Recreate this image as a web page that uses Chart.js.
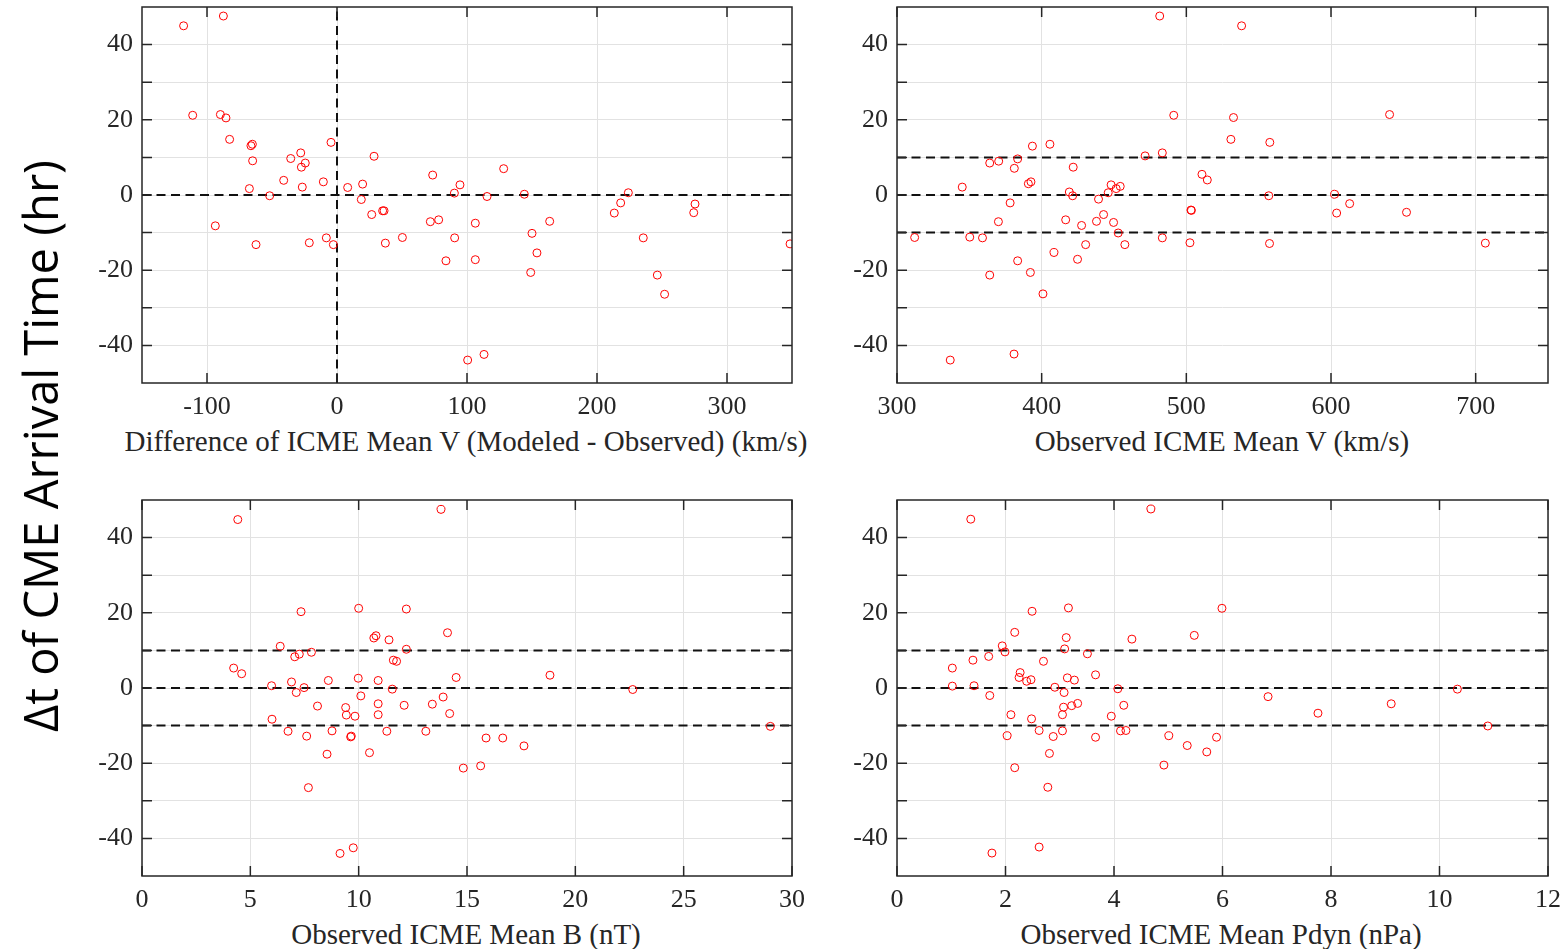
<!DOCTYPE html>
<html>
<head>
<meta charset="utf-8">
<title>CME arrival time error vs ICME parameters</title>
<script src="https://cdn.jsdelivr.net/npm/chart.js@4.4.1/dist/chart.umd.min.js"></script>
<style>
    html, body {
        margin: 0;
        padding: 0;
        background: #ffffff;
    }
    #page {
        position: relative;
        width: 1568px;
        height: 949px;
        overflow: hidden;
        background: #ffffff;
    }
    .panel {
        position: absolute;
    }
    .x-title {
        position: absolute;
        transform: translate(-50%, -50%);
        white-space: nowrap;
        font-family: 'Liberation Serif', 'Times New Roman', serif;
        font-size: 29px;
        color: #262626;
    }
    #y-title {
        position: absolute;
        left: 40px;
        top: 446px;
        transform: translate(-50%, -50%) rotate(-90deg);
        white-space: nowrap;
        font-family: 'Open Sans', 'Noto Sans', sans-serif;
        font-size: 47px;
        color: #000000;
    }
</style>
</head>
<body>
<div id="page">
    <canvas id="chartDiffV" class="panel" width="770" height="420" style="left:70px; top:0px;"></canvas>
    <canvas id="chartObsV" class="panel" width="743" height="420" style="left:825px; top:0px;"></canvas>
    <canvas id="chartObsB" class="panel" width="770" height="433" style="left:70px; top:480px;"></canvas>
    <canvas id="chartObsPdyn" class="panel" width="743" height="433" style="left:825px; top:480px;"></canvas>

    <div class="x-title" style="left:466px; top:441px;">Difference of ICME Mean V (Modeled - Observed) (km/s)</div>
    <div class="x-title" style="left:1222px; top:441px;">Observed ICME Mean V (km/s)</div>
    <div class="x-title" style="left:466px; top:934px;">Observed ICME Mean B (nT)</div>
    <div class="x-title" style="left:1221px; top:934px;">Observed ICME Mean Pdyn (nPa)</div>
    <div id="y-title">Δt of CME Arrival Time (hr)</div>
</div>

<script>
// Arrival time error (hr) against modeled - observed mean speed (km/s)
const diffV = [
    -118, -87.4, -111, -89.7, -85.4, -82.6, -66.2, -65.1, -64.9, -67.4,
    -51.8, -93.6, -62.3, -35.6, -27.9, -24.4, -27.4, -41, -26.7, -21.3,
    -10.5, -4.6, -8.2, -2.8, 8.2, 19.7, 18.7, 28.5, 26.7, 35.1,
    36.2, 37.2, 50.3, 73.6, 71.8, 78.2, 90.3, 94.6, 90.5, 83.8,
    100.5, 128.2, 115.4, 144.1, 106.4, 163.6, 150, 153.8, 106.4, 149,
    113.1, 224.1, 218.2, 213.3, 235.6, 246.4, 252, 275.4, 274.4, 348.5
];
const dtDiffV = [
    45.0, 47.6, 21.2, 21.4, 20.5, 14.8, 13.1, 13.5, 9.1, 1.7,
    -0.2, -8.2, -13.2, 9.7, 11.2, 8.5, 7.4, 3.9, 2.1, -12.7,
    3.5, 14.0, -11.4, -13.2, 2.0, 2.9, -1.2, 10.3, -5.2, -4.2,
    -4.2, -12.8, -11.3, 5.3, -7.1, -6.6, 0.5, 2.7, -11.4, -17.5,
    -43.9, 7.0, -0.4, 0.2, -7.5, -7.0, -10.2, -15.4, -17.2, -20.6,
    -42.4, 0.6, -2.1, -4.8, -11.4, -21.3, -26.4, -2.4, -4.7, -13.0
];

// Against observed ICME mean speed (km/s)
const obsV = [
    481.6, 491.3, 483.4, 471.5, 405.7, 393.6, 383.4, 370.3, 364.1, 381.1,
    421.8, 345.1, 390.8, 392.6, 419.1, 421.4, 378.2, 439.3, 446, 448,
    451.5, 454.3, 370.1, 416.6, 427.6, 437.9, 442.8, 449.7, 452.9, 312.2,
    350.3, 359.1, 430.4, 457.5, 408.5, 383.4, 424.8, 364.1, 392.2, 400.9,
    336.8, 380.9, 483.4, 510.8, 514.5, 503.2, 503.5, 502.5, 538.2, 532.6,
    530.8, 557.7, 557, 557.5, 602.5, 612.9, 603.9, 652.2, 640.5, 706.7
];
const dtObsV = [
    47.6, 21.2, 11.2, 10.4, 13.5, 13.0, 9.6, 9.0, 8.5, 7.1,
    7.4, 2.1, 3.0, 3.5, 0.8, -0.2, -2.1, -1.1, 0.6, 2.7,
    1.7, 2.3, -7.1, -6.6, -8.1, -7.0, -5.2, -7.3, -10.1, -11.3,
    -11.2, -11.4, -13.2, -13.2, -15.3, -17.5, -17.1, -21.3, -20.6, -26.3,
    -43.9, -42.3, -11.4, 5.5, 4.0, -4.0, -4.1, -12.7, 45.0, 20.6,
    14.8, 14.0, -0.2, -12.9, 0.2, -2.3, -4.8, -4.6, 21.4, -12.8
];

// Against observed ICME mean magnetic field (nT)
const obsB = [
    4.42, 13.8, 7.34, 10.0, 12.2, 14.1, 6.38, 10.7, 10.8, 11.4,
    12.2, 7.05, 7.26, 7.82, 11.6, 11.75, 4.23, 4.6, 5.98, 6.9,
    7.48, 7.12, 8.6, 9.98, 10.9, 11.55, 14.5, 10.1, 8.1, 9.4,
    9.43, 9.83, 10.9, 10.9, 12.1, 13.4, 13.9, 14.2, 6.0, 6.74,
    7.6, 8.77, 9.63, 9.66, 11.3, 13.1, 8.54, 10.5, 14.83, 7.68,
    9.14, 9.75, 18.83, 22.65, 29.0, 15.88, 16.65, 17.63, 15.63
];
const dtObsB = [
    44.8, 47.5, 20.3, 21.2, 21.0, 14.7, 11.1, 13.3, 13.9, 12.8,
    10.3, 8.3, 9.0, 9.5, 7.4, 7.1, 5.3, 3.8, 0.6, 1.6,
    0.1, -1.2, 2.0, 2.6, 2.0, -0.3, 2.8, -2.1, -4.8, -5.2,
    -7.2, -7.5, -4.2, -7.1, -4.6, -4.3, -2.4, -6.8, -8.3, -11.5,
    -12.8, -11.4, -13.0, -12.8, -11.5, -11.5, -17.6, -17.2, -21.3, -26.5,
    -44.0, -42.5, 3.4, -0.4, -10.2, -13.3, -13.3, -15.4, -20.7
];

// Against observed ICME mean dynamic pressure (nPa)
const obsPdyn = [
    1.36, 4.68, 2.49, 3.16, 5.99, 2.17, 3.12, 4.33, 5.48, 1.94,
    1.99, 3.09, 3.51, 1.69, 1.40, 2.70, 1.02, 2.27, 2.25, 2.39,
    2.47, 3.14, 3.27, 3.66, 1.02, 1.42, 1.71, 2.91, 3.08, 4.07,
    3.07, 3.22, 3.33, 3.05, 4.18, 3.95, 2.10, 2.48, 2.03, 2.62,
    2.88, 3.05, 3.66, 4.12, 4.22, 5.01, 5.35, 5.71, 5.89, 2.81,
    2.17, 4.92, 2.78, 1.75, 2.62, 6.84, 7.76, 9.11, 10.33, 10.89
];
const dtObsPdyn = [
    44.9, 47.6, 20.4, 21.3, 21.2, 14.8, 13.4, 13.0, 14.0, 11.2,
    9.6, 10.4, 9.1, 8.4, 7.4, 7.1, 5.3, 4.1, 2.8, 1.8,
    2.2, 2.7, 2.1, 3.5, 0.5, 0.6, -2.0, 0.2, -1.2, -0.2,
    -5.1, -4.7, -4.1, -7.1, -4.6, -7.5, -7.1, -8.2, -12.7, -11.3,
    -12.9, -11.4, -13.1, -11.4, -11.3, -12.7, -15.3, -17.0, -13.1, -17.4,
    -21.2, -20.5, -26.4, -43.9, -42.3, -2.3, -6.7, -4.2, -0.3, -10.1
];

// Axis ranges and tick values
const yRange = [-50, 50];
const yTicks = [-40, -30, -20, -10, 0, 10, 20, 30, 40];
const diffVRange = [-150, 350];
const diffVTicks = [-100, 0, 100, 200, 300];
const obsVRange = [300, 750];
const obsVTicks = [300, 400, 500, 600, 700];
const obsBRange = [0, 30];
const obsBTicks = [0, 5, 10, 15, 20, 25, 30];
const obsPdynRange = [0, 12];
const obsPdynTicks = [0, 2, 4, 6, 8, 10, 12];

// Dashed reference levels (hr)
const zeroLevel = [0];
const bandLevels = [-10, 0, 10];

const AXIS_COLOR = '#262626';
const GRID_COLOR = '#e2e2e2';
const TICK_LEN = 10;
const TICK_FONT = { family: "'Liberation Serif', 'Times New Roman', serif", size: 26 };

// MATLAB style box with inward ticks on all four sides
const frameTicks = {
    id: 'frameTicks',
    afterDraw(chart) {
        const { ctx, chartArea: a, scales: { x, y } } = chart;
        ctx.save();
        ctx.strokeStyle = AXIS_COLOR;
        ctx.lineWidth = 1.5;
        ctx.beginPath();
        x.ticks.forEach(t => {
            const px = x.getPixelForValue(t.value);
            ctx.moveTo(px, a.bottom);
            ctx.lineTo(px, a.bottom - TICK_LEN);
            ctx.moveTo(px, a.top);
            ctx.lineTo(px, a.top + TICK_LEN);
        });
        y.ticks.forEach(t => {
            const py = y.getPixelForValue(t.value);
            ctx.moveTo(a.left, py);
            ctx.lineTo(a.left + TICK_LEN, py);
            ctx.moveTo(a.right, py);
            ctx.lineTo(a.right - TICK_LEN, py);
        });
        ctx.stroke();
        ctx.strokeRect(a.left, a.top, a.right - a.left, a.bottom - a.top);
        ctx.restore();
    }
};

function toPoints(xs, ys) {
    return xs.map((v, i) => ({ x: v, y: ys[i] }));
}

function dashedLine(points) {
    return {
        type: 'line',
        data: points,
        borderColor: '#111111',
        borderWidth: 2,
        borderDash: [9, 5.5],
        pointRadius: 0,
        fill: false,
        order: 2
    };
}

// Drop the label overhang padding so the plot box sits where the layout says
function fixPadding(scale) {
    scale.paddingTop = 0;
    scale.paddingBottom = 0;
    scale.paddingLeft = 0;
    scale.paddingRight = 0;
}

function createPanel(canvasId, xs, ys, xRange, xTicks, levels, padding, withVertical) {
    const datasets = [{
        type: 'scatter',
        data: toPoints(xs, ys),
        borderColor: '#ff0000',
        backgroundColor: 'rgba(0,0,0,0)',
        borderWidth: 1,
        pointRadius: 4,
        pointHoverRadius: 4,
        order: 1
    }];

    levels.forEach(level => {
        datasets.push(dashedLine([{ x: xRange[0], y: level }, { x: xRange[1], y: level }]));
    });
    if (withVertical) {
        datasets.push(dashedLine([{ x: 0, y: yRange[0] }, { x: 0, y: yRange[1] }]));
    }

    return new Chart(document.getElementById(canvasId), {
        data: { datasets: datasets },
        options: {
            responsive: false,
            animation: false,
            layout: { padding: padding },
            plugins: {
                legend: { display: false },
                tooltip: { enabled: false }
            },
            scales: {
                x: {
                    type: 'linear',
                    min: xRange[0],
                    max: xRange[1],
                    afterBuildTicks: scale => {
                        scale.ticks = xTicks.map(v => ({ value: v }));
                    },
                    afterFit: scale => {
                        scale.height = 37;
                        fixPadding(scale);
                    },
                    grid: { color: GRID_COLOR, lineWidth: 1, drawTicks: false },
                    border: { display: false },
                    ticks: {
                        font: TICK_FONT,
                        color: AXIS_COLOR,
                        padding: 9,
                        maxRotation: 0,
                        autoSkip: false,
                        callback: v => String(v)
                    }
                },
                y: {
                    type: 'linear',
                    min: yRange[0],
                    max: yRange[1],
                    afterBuildTicks: scale => {
                        scale.ticks = yTicks.map(v => ({ value: v }));
                    },
                    afterFit: scale => {
                        scale.width = 72;
                        fixPadding(scale);
                    },
                    grid: { color: GRID_COLOR, lineWidth: 1, drawTicks: false },
                    border: { display: false },
                    ticks: {
                        font: TICK_FONT,
                        color: AXIS_COLOR,
                        padding: 9,
                        autoSkip: false,
                        callback: v => (v % 20 === 0 ? String(v) : '')
                    }
                }
            }
        },
        plugins: [frameTicks]
    });
}

createPanel('chartDiffV', diffV, dtDiffV, diffVRange, diffVTicks, zeroLevel,
    { top: 7, right: 48, left: 0, bottom: 0 }, true);
createPanel('chartObsV', obsV, dtObsV, obsVRange, obsVTicks, bandLevels,
    { top: 7, right: 20, left: 0, bottom: 0 }, false);
createPanel('chartObsB', obsB, dtObsB, obsBRange, obsBTicks, bandLevels,
    { top: 20, right: 48, left: 0, bottom: 0 }, false);
createPanel('chartObsPdyn', obsPdyn, dtObsPdyn, obsPdynRange, obsPdynTicks, bandLevels,
    { top: 20, right: 20, left: 0, bottom: 0 }, false);
</script>
</body>
</html>
